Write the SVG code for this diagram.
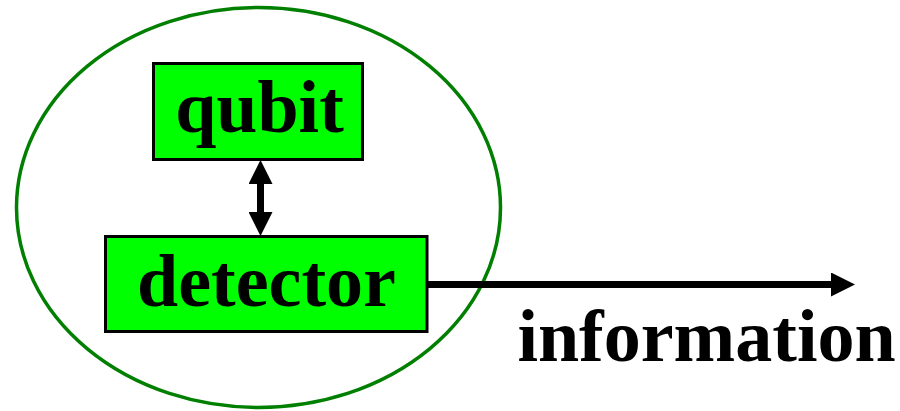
<svg xmlns="http://www.w3.org/2000/svg" width="900" height="411" viewBox="0 0 900 411">
  <style>
    .box { fill: #00ff00; stroke: #000; stroke-width: 3; }
    .label { font-family: "Liberation Serif", "Times New Roman", serif; font-weight: bold; font-size: 74px; fill: #000; text-anchor: middle; }
    .link { stroke: #000; fill: none; stroke-width: 7; }
  </style>
  <defs>
    <!-- arrowhead: its base sits on the line end, the tip 23px beyond -->
    <marker id="head" markerUnits="userSpaceOnUse" markerWidth="26" markerHeight="24" refX="1" refY="12" orient="auto-start-reverse">
      <path d="M0,0 L24,12 L0,24 Z" fill="#000"/>
    </marker>
  </defs>

  <!-- system boundary -->
  <ellipse id="system" cx="258.5" cy="207.5" rx="242" ry="200" fill="none" stroke="#007f00" stroke-width="3.5"/>

  <g id="qubit">
    <rect class="box" x="153.5" y="63.5" width="209" height="96"/>
    <text class="label" x="259.5" y="132">qubit</text>
  </g>

  <g id="detector">
    <rect class="box" x="105.5" y="236.5" width="321.5" height="95"/>
    <text class="label" x="266.5" y="306">detector</text>
  </g>

  <g id="information">
    <text class="label" x="706.5" y="361">information</text>
  </g>

  <g id="connectors">
    <line class="link" x1="260.5" y1="183" x2="260.5" y2="213" marker-start="url(#head)" marker-end="url(#head)"/>
    <line class="link" x1="428" y1="284.5" x2="832" y2="284.5" marker-end="url(#head)"/>
  </g>
</svg>
